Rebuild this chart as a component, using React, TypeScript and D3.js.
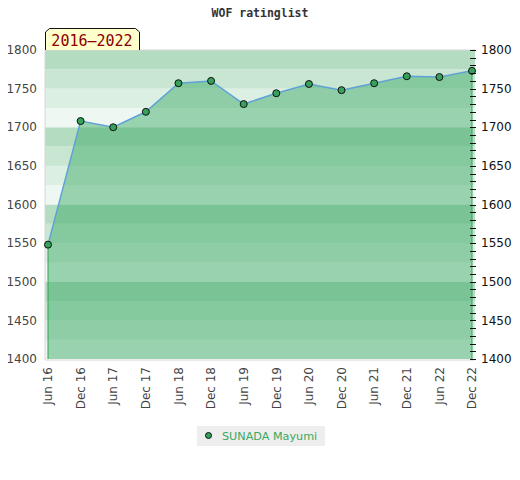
import * as d3 from "d3";

const periods = ["Jun 16", "Dec 16", "Jun 17", "Dec 17", "Jun 18", "Dec 18", "Jun 19", "Dec 19", "Jun 20", "Dec 20", "Jun 21", "Dec 21", "Jun 22", "Dec 22"];
const ratings = [1548, 1708, 1700, 1720, 1757, 1760, 1730, 1744, 1756, 1748, 1757, 1766, 1765, 1773];
const yTicks = [1400, 1450, 1500, 1550, 1600, 1650, 1700, 1750, 1800];
const playerName = "SUNADA Mayumi";
const rangeLabel = "2016\u20132022";
const title = "WOF ratinglist";

// band shades inside each block of 100, bottom to top
const bandShades = ["#eef7f1", "#dcefe3", "#c9e6d3", "#b4dcc1"];

const width = 520;
const height = 480;
const plotLeft = 45;
const plotRight = 475;
const plotTop = 50;
const plotBottom = 359;

export default function App() {
    const xScale = d3.scalePoint<string>().domain(periods).range([48, 472]);
    const yScale = d3.scaleLinear().domain([1400, 1800]).range([plotBottom, plotTop]);

    const points = periods.map((p, i) => ({ p, v: ratings[i] }));

    const area = d3.area<{ p: string; v: number }>()
        .x(d => xScale(d.p) as number)
        .y0(plotBottom)
        .y1(d => yScale(d.v));
    const line = d3.line<{ p: string; v: number }>()
        .x(d => xScale(d.p) as number)
        .y(d => yScale(d.v));

    const bands = d3.range(1400, 1800, 25);
    const minor = d3.range(1400, 1801, 10);
    const first = points[0];
    const last = points[points.length - 1];

    return (
        <svg width={width} height={height} style={{ display: "block", margin: "-8px" }}>
            <text x={260} y={17} textAnchor="middle" fontFamily="'DejaVu Sans Mono', monospace" fontWeight="bold" fontSize={11.5} fill="#333">{title}</text>

            {bands.map((b, i) => (
                <rect key={b} x={plotLeft} width={plotRight - plotLeft} y={yScale(b + 25)} height={yScale(b) - yScale(b + 25)} fill={bandShades[i % 4]} />
            ))}

            <path d={area(points) ?? ""} fill="rgb(58,168,97)" fillOpacity={0.47} />
            <line x1={xScale(first.p)} x2={xScale(first.p)} y1={yScale(first.v)} y2={plotBottom} stroke="#2fa352" strokeWidth={1} />
            <line x1={xScale(last.p)} x2={xScale(last.p)} y1={yScale(last.v)} y2={plotBottom} stroke="#2fa352" strokeWidth={1} />
            <path d={line(points) ?? ""} fill="none" stroke="#5fa2d6" strokeWidth={1.5} />

            <line x1={plotLeft} x2={plotLeft} y1={plotTop} y2={plotBottom + 1} stroke="#d6d6d6" />
            <line x1={plotLeft} x2={plotRight} y1={plotBottom + 1} y2={plotBottom + 1} stroke="#d6d6d6" />
            <line x1={plotLeft} x2={plotRight} y1={plotTop} y2={plotTop} stroke="#d6d6d6" />

            {points.map(d => (
                <circle key={d.p} cx={xScale(d.p)} cy={yScale(d.v)} r={3.5} fill="#36a15a" stroke="#111" strokeWidth={1} />
            ))}

            {minor.map(t => (
                <line key={t} x1={470} x2={476} y1={Math.round(yScale(t)) + 0.5} y2={Math.round(yScale(t)) + 0.5} stroke="#111" />
            ))}

            {yTicks.map(t => (
                <g key={t}>
                    <text x={37} y={yScale(t)} dy="0.35em" textAnchor="end" fontFamily="'DejaVu Sans', sans-serif" fontSize={12} fill="#444">{t}</text>
                    <text x={481} y={yScale(t)} dy="0.35em" textAnchor="start" fontFamily="'DejaVu Sans', sans-serif" fontSize={12} fill="#111">{t}</text>
                </g>
            ))}

            {periods.map(p => (
                <text key={p} transform={`translate(${xScale(p)},367) rotate(-90)`} dy="0.35em" textAnchor="end" fontFamily="'DejaVu Sans', sans-serif" fontSize={12} fill="#444">{p}</text>
            ))}

            <path d="M45.5,50 L45.5,32 L49.5,28.5 L135.5,28.5 L139.5,32 L139.5,50" fill="#ffffcc" stroke="#111" strokeWidth={1} />
            <text x={92} y={46} textAnchor="middle" fontFamily="'DejaVu Sans Mono', monospace" fontSize={15} fill="#8b0000">{rangeLabel}</text>

            <rect x={197} y={426} width={128} height={20} fill="#eeeeee" />
            <circle cx={208.5} cy={435.5} r={3} fill="#36a15a" stroke="#111" strokeWidth={1} />
            <text x={222} y={436} dy="0.35em" fontFamily="'DejaVu Sans', sans-serif" fontSize={11.2} fill="#3aa85e">{playerName}</text>
        </svg>
    );
}
